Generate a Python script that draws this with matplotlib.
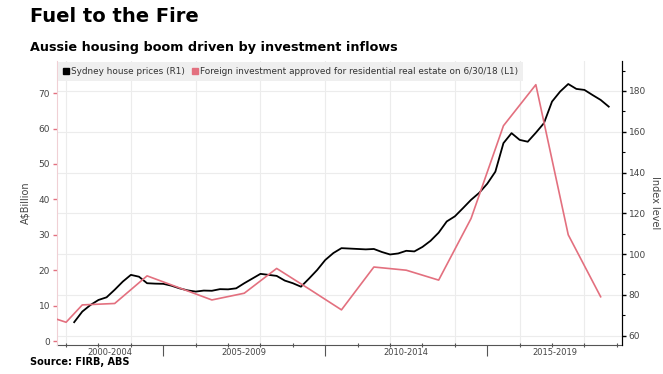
import matplotlib.pyplot as plt
from matplotlib.lines import Line2D
import numpy as np

# Sydney house price index (R1), quarterly from 2002 Q1
house_start = 2002.25
house_idx = [66.6, 71.8, 75.0, 77.5, 78.8, 82.5, 86.5, 89.8,
             88.9, 85.7, 85.5, 85.4, 84.5, 83.2, 82.2, 81.6,
             82.1, 82.0, 82.8, 82.7, 83.2, 85.7, 88.0, 90.3,
             89.8, 89.3, 87.0, 85.7, 84.0, 88.0, 92.2, 97.1,
             100.5, 102.9, 102.7, 102.5, 102.3, 102.5, 101.0, 99.8,
             100.3, 101.6, 101.3, 103.5, 106.5, 110.5, 116.0, 118.5,
             122.5, 126.6, 130.0, 134.5, 140.4, 154.4, 159.3, 156.0,
             155.1, 159.5, 164.2, 174.8, 179.7, 183.4, 181.0, 180.5,
             178.0, 175.6, 172.3]
house_t = house_start + 0.25 * np.arange(len(house_idx))

# FIRB approvals for residential real estate (L1), A$ billion
firb_t = [2001.5, 2002.0, 2002.5, 2003.5, 2004.5, 2005.5, 2006.5, 2007.5,
          2008.5, 2009.5, 2010.5, 2011.5, 2012.5, 2013.5, 2014.5, 2015.5,
          2016.5, 2017.5, 2018.5]
firb_bn = [6.8, 5.3, 10.2, 10.6, 18.4, 15.0, 11.6, 13.5,
           20.5, 14.7, 8.8, 20.9, 20.0, 17.2, 34.6, 60.8,
           72.4, 30.0, 12.5]

periods = ["2000-2004", "2005-2009", "2010-2014", "2015-2019"]
period_start = [2000, 2005, 2010, 2015]
x_min, x_max = 2001.72, 2019.15

pink = "#e3707f"
grid_c = "#ececec"
txt_c = "#444444"

fig = plt.figure(figsize=(6.63, 3.74), dpi=100)
ax2 = fig.add_axes([0.086, 0.0775, 0.8517, 0.7595])   # right scale, behind
ax = ax2.twinx()                                       # left scale, on top
ax.yaxis.tick_left()
ax.yaxis.set_label_position("left")
ax2.yaxis.tick_right()
ax2.yaxis.set_label_position("right")

ax2.plot(house_t, house_idx, color="black", lw=1.3, zorder=3)
ax.plot(firb_t, firb_bn, color=pink, lw=1.2, zorder=3)

ax.set_xlim(x_min, x_max)
ax2.set_xlim(x_min, x_max)
ax.set_ylim(-1.13, 79.1)
ax2.set_ylim(55.4, 194.7)

# right axis
ax2.set_yticks(np.arange(60, 181, 20))
ax2.set_yticks(np.arange(70, 191, 20), minor=True)
ax2.tick_params(axis="y", which="major", length=3, width=1, color="black",
                labelsize=6.5, labelcolor=txt_c, pad=2)
ax2.tick_params(axis="y", which="minor", length=2, width=0.8, color="black")
ax2.set_ylabel("Index level", rotation=270, fontsize=7, color=txt_c, labelpad=10)
ax2.grid(axis="y", which="major", color=grid_c, lw=0.8)

# vertical grid every two years
for yr in range(2002, 2020, 2):
    ax2.axvline(yr, color=grid_c, lw=0.8, zorder=0)

# left axis
ax.set_yticks(np.arange(0, 71, 10))
ax.tick_params(axis="y", length=3, width=1, color=pink, labelsize=6.5,
               labelcolor=txt_c, pad=2)
ax.set_ylabel("A$Billion", fontsize=7, color=txt_c, labelpad=6)

# x axis: year ticks, longer ticks at period breaks
ax2.set_xticks(period_start[1:])
ax2.set_xticks(range(2002, 2020), minor=True)
ax2.set_xticklabels([])
ax2.tick_params(axis="x", which="major", length=8, width=0.8, color="#555555")
ax2.tick_params(axis="x", which="minor", length=3, width=0.8, color="#555555",
                direction="inout")
ax.tick_params(axis="x", which="both", bottom=False, labelbottom=False)
for i, lab in enumerate(periods):
    a = max(period_start[i], x_min)
    b = min(period_start[i] + 5, x_max)
    ax2.text((a + b) / 2, -0.012, lab, transform=ax2.get_xaxis_transform(),
             ha="center", va="top", fontsize=6, color=txt_c)

for a_ in (ax, ax2):
    a_.spines["top"].set_visible(False)
ax2.spines["left"].set_visible(False)
ax.spines["left"].set_color("#f0d0d5")
ax.spines["right"].set_color("black")
ax2.spines["right"].set_color("black")
ax2.spines["bottom"].set_color("#555555")
ax.spines["bottom"].set_visible(False)

handles = [Line2D([], [], marker="s", color="black", ls="None", markersize=4.5),
           Line2D([], [], marker="s", color=pink, ls="None", markersize=4.5)]
labels = ["Sydney house prices (R1)",
          "Foreign investment approved for residential real estate on 6/30/18 (L1)"]
leg = ax.legend(handles, labels, loc="upper left", ncol=2, fontsize=6.4,
                frameon=True, fancybox=False, borderaxespad=0.1,
                handletextpad=0.1, columnspacing=0.8, handlelength=0.8,
                borderpad=0.55)
leg.get_frame().set_facecolor("#efefef")
leg.get_frame().set_edgecolor("none")
leg.get_frame().set_alpha(1)
for t in leg.get_texts():
    t.set_color("#333333")

fig.text(0.045, 0.955, "Fuel to the Fire", fontsize=14, fontweight="bold",
         ha="left", va="center", color="black")
fig.text(0.045, 0.872, "Aussie housing boom driven by investment inflows",
         fontsize=9.2, fontweight="bold", ha="left", va="center", color="black")
fig.text(0.045, 0.032, "Source: FIRB, ABS", fontsize=7, fontweight="bold",
         ha="left", va="center", color="black")

fig.savefig("out.png", dpi=100)
